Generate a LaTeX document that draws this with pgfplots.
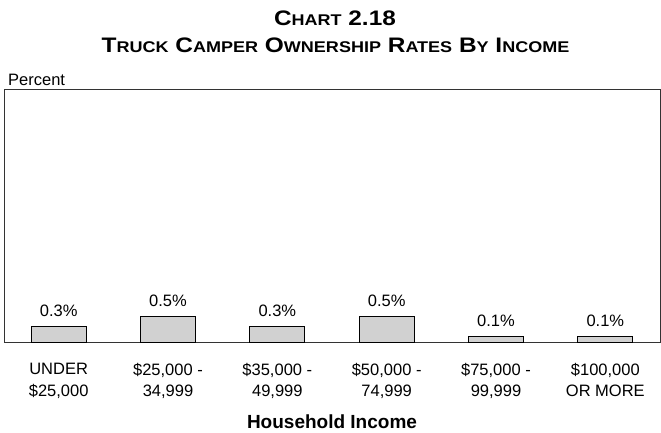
\documentclass[border=0pt]{standalone}
\usepackage{pgfplots}
\pgfplotsset{compat=1.18}
\usepackage{fontspec}
\usepackage{graphicx}
\setmainfont{Liberation Sans}
\newcommand{\SC}[1]{{\fontsize{15.5}{18}\selectfont #1}}
\begin{document}
\begin{tikzpicture}
\path[use as bounding box] (0pt,0pt) rectangle (661pt,432pt);
\begin{axis}[
  at={(4pt,90pt)}, anchor=south west,
  scale only axis, width=656pt, height=253pt,
  xmin=-0.5, xmax=5.5, ymin=0, ymax=5,
  /pgf/number format/assume math mode=true,
  ytick=\empty,
  xtick=data,
  xticklabels={{UNDER\\\$25,000},{\$25,000 -\\34,999},{\$35,000 -\\49,999},{\$50,000 -\\74,999},{\$75,000 -\\99,999},{\$100,000\\OR MORE}},
  xticklabel style={align=center, font=\fontsize{16.5}{21.5}\selectfont, inner sep=0pt, anchor=north, yshift=-21pt},
  major tick length=0pt,
  axis line style={black!80, line width=0.8pt},
  ybar, bar width=55pt,
  point meta=y,
  nodes near coords={\pgfmathprintnumber[fixed,precision=1,fixed zerofill]{\pgfplotspointmeta}\%},
  every node near coord/.append style={anchor=base, inner sep=0pt, yshift=10pt, font=\fontsize{16.5}{20}\selectfont, text=black},
]
\addplot[draw=black, line width=0.9pt, fill=black!18] coordinates {(0,0.3) (1,0.5) (2,0.3) (3,0.5) (4,0.1) (5,0.1)};
\end{axis}
\node[anchor=base, inner sep=0pt, font=\fontsize{21}{24}\selectfont\bfseries] at (335pt,406pt) {\scalebox{1.16}[1]{C\SC{HART} 2.18}};
\node[anchor=base, inner sep=0pt, font=\fontsize{21}{24}\selectfont\bfseries] at (335.5pt,379pt) {\scalebox{1.163}[1]{T\SC{RUCK} C\SC{AMPER} O\SC{WNERSHIP} R\SC{ATES} B\SC{Y} I\SC{NCOME}}};
\node[anchor=base west, inner sep=0pt, font=\fontsize{16.5}{20}\selectfont] at (8pt,346pt) {Percent};
\node[anchor=base, inner sep=0pt, font=\fontsize{19}{23}\selectfont\bfseries] at (332pt,4pt) {Household Income};
\end{tikzpicture}
\end{document}
